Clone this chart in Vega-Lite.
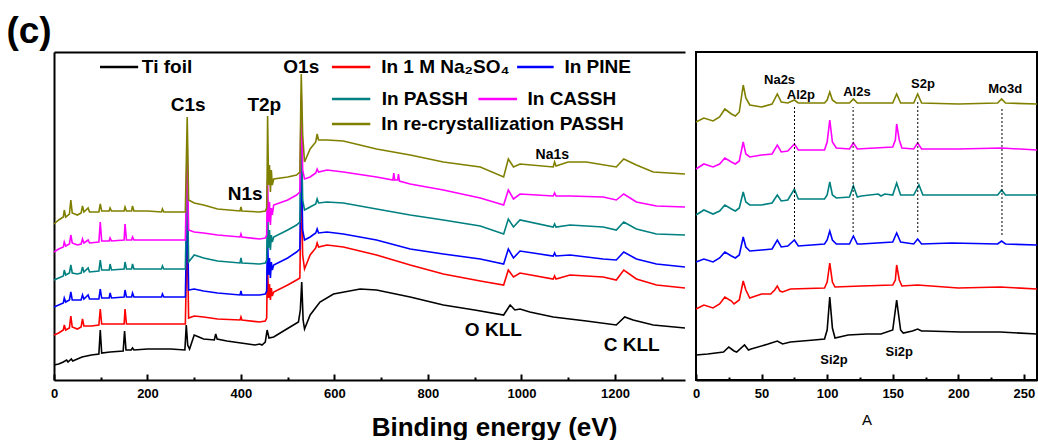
{
  "$schema": "https://vega.github.io/schema/vega-lite/v6.json",
  "padding": {"left": 6, "top": 13, "right": 0, "bottom": 0},
  "title": {"text": "(c)", "anchor": "start", "fontSize": 37, "fontWeight": "bold", "font": "Liberation Sans", "color": "black", "dx": -44, "offset": 0},
  "config": {
    "font": "Liberation Sans",
    "view": {"stroke": null},
    "axis": {"grid": false, "domainColor": "black", "tickColor": "black", "labelColor": "black", "titleColor": "black"}
  },
  "spacing": 2,
  "datasets": {
    "left": [
      {"s":"Ti foil","e":0,"v":15},{"s":"Ti foil","e":10,"v":16},{"s":"Ti foil","e":20,"v":18},{"s":"Ti foil","e":27,"v":20},{"s":"Ti foil","e":30,"v":18},{"s":"Ti foil","e":37,"v":21},{"s":"Ti foil","e":40,"v":19},{"s":"Ti foil","e":60,"v":23},{"s":"Ti foil","e":80,"v":25},{"s":"Ti foil","e":96,"v":26},{"s":"Ti foil","e":99,"v":50},{"s":"Ti foil","e":102,"v":27},{"s":"Ti foil","e":120,"v":28},{"s":"Ti foil","e":148,"v":29},{"s":"Ti foil","e":151,"v":49},{"s":"Ti foil","e":154,"v":30},{"s":"Ti foil","e":165,"v":30},{"s":"Ti foil","e":168,"v":32},{"s":"Ti foil","e":171,"v":30},{"s":"Ti foil","e":200,"v":31},{"s":"Ti foil","e":250,"v":31},{"s":"Ti foil","e":280,"v":30},{"s":"Ti foil","e":283,"v":55},{"s":"Ti foil","e":286,"v":35},{"s":"Ti foil","e":290,"v":31},{"s":"Ti foil","e":300,"v":45},{"s":"Ti foil","e":310,"v":43},{"s":"Ti foil","e":320,"v":41},{"s":"Ti foil","e":343,"v":40},{"s":"Ti foil","e":346,"v":46},{"s":"Ti foil","e":349,"v":41},{"s":"Ti foil","e":370,"v":39},{"s":"Ti foil","e":400,"v":37},{"s":"Ti foil","e":430,"v":35},{"s":"Ti foil","e":440,"v":36},{"s":"Ti foil","e":445,"v":35},{"s":"Ti foil","e":452,"v":38},{"s":"Ti foil","e":456,"v":50},{"s":"Ti foil","e":460,"v":42},{"s":"Ti foil","e":470,"v":43},{"s":"Ti foil","e":498,"v":51},{"s":"Ti foil","e":523,"v":58},{"s":"Ti foil","e":527,"v":70},{"s":"Ti foil","e":530,"v":98},{"s":"Ti foil","e":533,"v":60},{"s":"Ti foil","e":536,"v":51},{"s":"Ti foil","e":548,"v":65},{"s":"Ti foil","e":569,"v":78},{"s":"Ti foil","e":598,"v":86},{"s":"Ti foil","e":655,"v":91},{"s":"Ti foil","e":690,"v":90},{"s":"Ti foil","e":762,"v":83},{"s":"Ti foil","e":833,"v":75},{"s":"Ti foil","e":900,"v":70},{"s":"Ti foil","e":962,"v":65},{"s":"Ti foil","e":976,"v":75},{"s":"Ti foil","e":986,"v":70},{"s":"Ti foil","e":997,"v":71},{"s":"Ti foil","e":1018,"v":68},{"s":"Ti foil","e":1068,"v":63},{"s":"Ti foil","e":1139,"v":59},{"s":"Ti foil","e":1203,"v":55},{"s":"Ti foil","e":1221,"v":63},{"s":"Ti foil","e":1239,"v":60},{"s":"Ti foil","e":1282,"v":55},{"s":"Ti foil","e":1350,"v":52},

      {"s":"Na2SO4","e":0,"v":45},{"s":"Na2SO4","e":10,"v":47},{"s":"Na2SO4","e":20,"v":50},{"s":"Na2SO4","e":22,"v":55},{"s":"Na2SO4","e":25,"v":50},{"s":"Na2SO4","e":33,"v":52},{"s":"Na2SO4","e":36,"v":64},{"s":"Na2SO4","e":39,"v":53},{"s":"Na2SO4","e":50,"v":51},{"s":"Na2SO4","e":58,"v":53},{"s":"Na2SO4","e":61,"v":61},{"s":"Na2SO4","e":64,"v":54},{"s":"Na2SO4","e":80,"v":54},{"s":"Na2SO4","e":96,"v":55},{"s":"Na2SO4","e":99,"v":71},{"s":"Na2SO4","e":102,"v":56},{"s":"Na2SO4","e":125,"v":56},{"s":"Na2SO4","e":150,"v":56},{"s":"Na2SO4","e":152,"v":71},{"s":"Na2SO4","e":155,"v":56},{"s":"Na2SO4","e":200,"v":56},{"s":"Na2SO4","e":240,"v":56},{"s":"Na2SO4","e":270,"v":56},{"s":"Na2SO4","e":281,"v":56},{"s":"Na2SO4","e":285,"v":150},{"s":"Na2SO4","e":288,"v":62},{"s":"Na2SO4","e":300,"v":64},{"s":"Na2SO4","e":320,"v":63},{"s":"Na2SO4","e":350,"v":61},{"s":"Na2SO4","e":398,"v":60},{"s":"Na2SO4","e":400,"v":63},{"s":"Na2SO4","e":402,"v":60},{"s":"Na2SO4","e":440,"v":58},{"s":"Na2SO4","e":452,"v":59},{"s":"Na2SO4","e":455,"v":62},{"s":"Na2SO4","e":456,"v":98},{"s":"Na2SO4","e":457,"v":112},{"s":"Na2SO4","e":459,"v":82},{"s":"Na2SO4","e":461,"v":96},{"s":"Na2SO4","e":463,"v":80},{"s":"Na2SO4","e":465,"v":92},{"s":"Na2SO4","e":467,"v":84},{"s":"Na2SO4","e":470,"v":88},{"s":"Na2SO4","e":500,"v":95},{"s":"Na2SO4","e":519,"v":100},{"s":"Na2SO4","e":526,"v":102},{"s":"Na2SO4","e":529,"v":200},{"s":"Na2SO4","e":532,"v":125},{"s":"Na2SO4","e":536,"v":111},{"s":"Na2SO4","e":548,"v":125},{"s":"Na2SO4","e":560,"v":132},{"s":"Na2SO4","e":563,"v":137},{"s":"Na2SO4","e":566,"v":133},{"s":"Na2SO4","e":584,"v":135},{"s":"Na2SO4","e":619,"v":133},{"s":"Na2SO4","e":690,"v":125},{"s":"Na2SO4","e":762,"v":115},{"s":"Na2SO4","e":833,"v":106},{"s":"Na2SO4","e":912,"v":99},{"s":"Na2SO4","e":962,"v":95},{"s":"Na2SO4","e":972,"v":110},{"s":"Na2SO4","e":983,"v":103},{"s":"Na2SO4","e":997,"v":107},{"s":"Na2SO4","e":1068,"v":101},{"s":"Na2SO4","e":1071,"v":104},{"s":"Na2SO4","e":1074,"v":101},{"s":"Na2SO4","e":1104,"v":105},{"s":"Na2SO4","e":1175,"v":103},{"s":"Na2SO4","e":1203,"v":100},{"s":"Na2SO4","e":1219,"v":110},{"s":"Na2SO4","e":1246,"v":101},{"s":"Na2SO4","e":1289,"v":95},{"s":"Na2SO4","e":1350,"v":92},

      {"s":"PINE","e":0,"v":73},{"s":"PINE","e":10,"v":75},{"s":"PINE","e":20,"v":77},{"s":"PINE","e":22,"v":82},{"s":"PINE","e":25,"v":78},{"s":"PINE","e":33,"v":80},{"s":"PINE","e":36,"v":88},{"s":"PINE","e":39,"v":80},{"s":"PINE","e":50,"v":80},{"s":"PINE","e":58,"v":80},{"s":"PINE","e":61,"v":85},{"s":"PINE","e":64,"v":81},{"s":"PINE","e":73,"v":85},{"s":"PINE","e":76,"v":81},{"s":"PINE","e":96,"v":81},{"s":"PINE","e":99,"v":91},{"s":"PINE","e":102,"v":82},{"s":"PINE","e":118,"v":82},{"s":"PINE","e":120,"v":87},{"s":"PINE","e":123,"v":82},{"s":"PINE","e":150,"v":83},{"s":"PINE","e":152,"v":90},{"s":"PINE","e":155,"v":83},{"s":"PINE","e":166,"v":83},{"s":"PINE","e":168,"v":87},{"s":"PINE","e":171,"v":83},{"s":"PINE","e":200,"v":83},{"s":"PINE","e":230,"v":83},{"s":"PINE","e":232,"v":86},{"s":"PINE","e":235,"v":83},{"s":"PINE","e":270,"v":83},{"s":"PINE","e":281,"v":83},{"s":"PINE","e":285,"v":180},{"s":"PINE","e":288,"v":90},{"s":"PINE","e":300,"v":91},{"s":"PINE","e":320,"v":89},{"s":"PINE","e":350,"v":87},{"s":"PINE","e":398,"v":85},{"s":"PINE","e":400,"v":89},{"s":"PINE","e":402,"v":85},{"s":"PINE","e":440,"v":85},{"s":"PINE","e":452,"v":86},{"s":"PINE","e":455,"v":89},{"s":"PINE","e":456,"v":125},{"s":"PINE","e":457,"v":140},{"s":"PINE","e":459,"v":105},{"s":"PINE","e":461,"v":122},{"s":"PINE","e":463,"v":102},{"s":"PINE","e":465,"v":118},{"s":"PINE","e":467,"v":110},{"s":"PINE","e":470,"v":115},{"s":"PINE","e":500,"v":122},{"s":"PINE","e":519,"v":128},{"s":"PINE","e":526,"v":131},{"s":"PINE","e":529,"v":230},{"s":"PINE","e":532,"v":150},{"s":"PINE","e":536,"v":140},{"s":"PINE","e":548,"v":143},{"s":"PINE","e":560,"v":147},{"s":"PINE","e":563,"v":151},{"s":"PINE","e":566,"v":147},{"s":"PINE","e":584,"v":148},{"s":"PINE","e":619,"v":146},{"s":"PINE","e":690,"v":140},{"s":"PINE","e":762,"v":131},{"s":"PINE","e":833,"v":126},{"s":"PINE","e":912,"v":121},{"s":"PINE","e":962,"v":116},{"s":"PINE","e":972,"v":131},{"s":"PINE","e":983,"v":122},{"s":"PINE","e":997,"v":129},{"s":"PINE","e":1068,"v":124},{"s":"PINE","e":1071,"v":127},{"s":"PINE","e":1074,"v":124},{"s":"PINE","e":1104,"v":125},{"s":"PINE","e":1175,"v":121},{"s":"PINE","e":1203,"v":120},{"s":"PINE","e":1219,"v":128},{"s":"PINE","e":1246,"v":121},{"s":"PINE","e":1289,"v":116},{"s":"PINE","e":1350,"v":113},

      {"s":"PASSH","e":0,"v":100},{"s":"PASSH","e":10,"v":102},{"s":"PASSH","e":20,"v":104},{"s":"PASSH","e":22,"v":110},{"s":"PASSH","e":25,"v":105},{"s":"PASSH","e":33,"v":107},{"s":"PASSH","e":36,"v":115},{"s":"PASSH","e":39,"v":107},{"s":"PASSH","e":50,"v":106},{"s":"PASSH","e":58,"v":107},{"s":"PASSH","e":61,"v":113},{"s":"PASSH","e":64,"v":108},{"s":"PASSH","e":73,"v":112},{"s":"PASSH","e":76,"v":108},{"s":"PASSH","e":96,"v":109},{"s":"PASSH","e":99,"v":120},{"s":"PASSH","e":102,"v":110},{"s":"PASSH","e":118,"v":110},{"s":"PASSH","e":120,"v":116},{"s":"PASSH","e":123,"v":110},{"s":"PASSH","e":150,"v":111},{"s":"PASSH","e":152,"v":118},{"s":"PASSH","e":155,"v":111},{"s":"PASSH","e":166,"v":111},{"s":"PASSH","e":168,"v":116},{"s":"PASSH","e":171,"v":111},{"s":"PASSH","e":200,"v":111},{"s":"PASSH","e":230,"v":111},{"s":"PASSH","e":232,"v":114},{"s":"PASSH","e":235,"v":111},{"s":"PASSH","e":270,"v":111},{"s":"PASSH","e":281,"v":111},{"s":"PASSH","e":285,"v":210},{"s":"PASSH","e":288,"v":118},{"s":"PASSH","e":300,"v":125},{"s":"PASSH","e":320,"v":122},{"s":"PASSH","e":350,"v":119},{"s":"PASSH","e":398,"v":117},{"s":"PASSH","e":400,"v":122},{"s":"PASSH","e":402,"v":117},{"s":"PASSH","e":440,"v":116},{"s":"PASSH","e":452,"v":117},{"s":"PASSH","e":455,"v":120},{"s":"PASSH","e":456,"v":150},{"s":"PASSH","e":457,"v":175},{"s":"PASSH","e":459,"v":132},{"s":"PASSH","e":461,"v":150},{"s":"PASSH","e":463,"v":130},{"s":"PASSH","e":465,"v":145},{"s":"PASSH","e":467,"v":138},{"s":"PASSH","e":470,"v":143},{"s":"PASSH","e":500,"v":150},{"s":"PASSH","e":519,"v":155},{"s":"PASSH","e":526,"v":158},{"s":"PASSH","e":529,"v":260},{"s":"PASSH","e":532,"v":180},{"s":"PASSH","e":536,"v":170},{"s":"PASSH","e":548,"v":173},{"s":"PASSH","e":560,"v":176},{"s":"PASSH","e":563,"v":181},{"s":"PASSH","e":566,"v":177},{"s":"PASSH","e":584,"v":178},{"s":"PASSH","e":619,"v":177},{"s":"PASSH","e":690,"v":171},{"s":"PASSH","e":762,"v":165},{"s":"PASSH","e":833,"v":160},{"s":"PASSH","e":912,"v":154},{"s":"PASSH","e":962,"v":146},{"s":"PASSH","e":972,"v":161},{"s":"PASSH","e":983,"v":153},{"s":"PASSH","e":997,"v":160},{"s":"PASSH","e":1068,"v":153},{"s":"PASSH","e":1071,"v":156},{"s":"PASSH","e":1074,"v":153},{"s":"PASSH","e":1104,"v":155},{"s":"PASSH","e":1175,"v":153},{"s":"PASSH","e":1203,"v":150},{"s":"PASSH","e":1219,"v":158},{"s":"PASSH","e":1246,"v":151},{"s":"PASSH","e":1289,"v":146},{"s":"PASSH","e":1350,"v":145},

      {"s":"CASSH","e":0,"v":128},{"s":"CASSH","e":10,"v":131},{"s":"CASSH","e":20,"v":133},{"s":"CASSH","e":22,"v":138},{"s":"CASSH","e":25,"v":134},{"s":"CASSH","e":33,"v":136},{"s":"CASSH","e":36,"v":145},{"s":"CASSH","e":39,"v":137},{"s":"CASSH","e":50,"v":135},{"s":"CASSH","e":58,"v":136},{"s":"CASSH","e":61,"v":141},{"s":"CASSH","e":64,"v":137},{"s":"CASSH","e":73,"v":140},{"s":"CASSH","e":76,"v":137},{"s":"CASSH","e":96,"v":138},{"s":"CASSH","e":99,"v":158},{"s":"CASSH","e":102,"v":139},{"s":"CASSH","e":118,"v":139},{"s":"CASSH","e":120,"v":142},{"s":"CASSH","e":123,"v":139},{"s":"CASSH","e":150,"v":140},{"s":"CASSH","e":152,"v":156},{"s":"CASSH","e":155,"v":140},{"s":"CASSH","e":166,"v":140},{"s":"CASSH","e":168,"v":143},{"s":"CASSH","e":171,"v":140},{"s":"CASSH","e":200,"v":140},{"s":"CASSH","e":270,"v":140},{"s":"CASSH","e":281,"v":140},{"s":"CASSH","e":285,"v":235},{"s":"CASSH","e":288,"v":150},{"s":"CASSH","e":300,"v":148},{"s":"CASSH","e":320,"v":147},{"s":"CASSH","e":350,"v":145},{"s":"CASSH","e":398,"v":143},{"s":"CASSH","e":400,"v":146},{"s":"CASSH","e":402,"v":143},{"s":"CASSH","e":440,"v":141},{"s":"CASSH","e":452,"v":142},{"s":"CASSH","e":455,"v":145},{"s":"CASSH","e":456,"v":178},{"s":"CASSH","e":457,"v":200},{"s":"CASSH","e":459,"v":158},{"s":"CASSH","e":461,"v":178},{"s":"CASSH","e":463,"v":155},{"s":"CASSH","e":465,"v":172},{"s":"CASSH","e":467,"v":165},{"s":"CASSH","e":470,"v":175},{"s":"CASSH","e":500,"v":180},{"s":"CASSH","e":519,"v":185},{"s":"CASSH","e":526,"v":188},{"s":"CASSH","e":529,"v":285},{"s":"CASSH","e":532,"v":210},{"s":"CASSH","e":536,"v":201},{"s":"CASSH","e":548,"v":203},{"s":"CASSH","e":560,"v":207},{"s":"CASSH","e":563,"v":211},{"s":"CASSH","e":566,"v":208},{"s":"CASSH","e":584,"v":210},{"s":"CASSH","e":619,"v":208},{"s":"CASSH","e":690,"v":203},{"s":"CASSH","e":725,"v":200},{"s":"CASSH","e":727,"v":207},{"s":"CASSH","e":729,"v":200},{"s":"CASSH","e":735,"v":200},{"s":"CASSH","e":737,"v":206},{"s":"CASSH","e":739,"v":199},{"s":"CASSH","e":762,"v":196},{"s":"CASSH","e":833,"v":190},{"s":"CASSH","e":912,"v":182},{"s":"CASSH","e":962,"v":175},{"s":"CASSH","e":972,"v":190},{"s":"CASSH","e":983,"v":181},{"s":"CASSH","e":997,"v":186},{"s":"CASSH","e":1068,"v":184},{"s":"CASSH","e":1071,"v":187},{"s":"CASSH","e":1074,"v":184},{"s":"CASSH","e":1104,"v":184},{"s":"CASSH","e":1175,"v":183},{"s":"CASSH","e":1203,"v":180},{"s":"CASSH","e":1219,"v":186},{"s":"CASSH","e":1246,"v":178},{"s":"CASSH","e":1289,"v":174},{"s":"CASSH","e":1350,"v":173},

      {"s":"re-PASSH","e":0,"v":156},{"s":"re-PASSH","e":10,"v":160},{"s":"re-PASSH","e":20,"v":163},{"s":"re-PASSH","e":22,"v":170},{"s":"re-PASSH","e":25,"v":163},{"s":"re-PASSH","e":33,"v":166},{"s":"re-PASSH","e":36,"v":180},{"s":"re-PASSH","e":39,"v":167},{"s":"re-PASSH","e":50,"v":165},{"s":"re-PASSH","e":58,"v":167},{"s":"re-PASSH","e":61,"v":174},{"s":"re-PASSH","e":64,"v":168},{"s":"re-PASSH","e":73,"v":172},{"s":"re-PASSH","e":76,"v":168},{"s":"re-PASSH","e":96,"v":168},{"s":"re-PASSH","e":99,"v":176},{"s":"re-PASSH","e":102,"v":169},{"s":"re-PASSH","e":118,"v":169},{"s":"re-PASSH","e":120,"v":172},{"s":"re-PASSH","e":123,"v":169},{"s":"re-PASSH","e":150,"v":169},{"s":"re-PASSH","e":152,"v":173},{"s":"re-PASSH","e":155,"v":169},{"s":"re-PASSH","e":166,"v":169},{"s":"re-PASSH","e":168,"v":174},{"s":"re-PASSH","e":171,"v":169},{"s":"re-PASSH","e":200,"v":169},{"s":"re-PASSH","e":230,"v":168},{"s":"re-PASSH","e":232,"v":171},{"s":"re-PASSH","e":235,"v":168},{"s":"re-PASSH","e":270,"v":168},{"s":"re-PASSH","e":281,"v":168},{"s":"re-PASSH","e":285,"v":263},{"s":"re-PASSH","e":288,"v":180},{"s":"re-PASSH","e":300,"v":177},{"s":"re-PASSH","e":320,"v":175},{"s":"re-PASSH","e":350,"v":171},{"s":"re-PASSH","e":398,"v":169},{"s":"re-PASSH","e":400,"v":173},{"s":"re-PASSH","e":402,"v":169},{"s":"re-PASSH","e":440,"v":168},{"s":"re-PASSH","e":452,"v":169},{"s":"re-PASSH","e":455,"v":172},{"s":"re-PASSH","e":456,"v":205},{"s":"re-PASSH","e":457,"v":264},{"s":"re-PASSH","e":459,"v":195},{"s":"re-PASSH","e":461,"v":215},{"s":"re-PASSH","e":463,"v":188},{"s":"re-PASSH","e":465,"v":210},{"s":"re-PASSH","e":467,"v":195},{"s":"re-PASSH","e":470,"v":201},{"s":"re-PASSH","e":500,"v":203},{"s":"re-PASSH","e":519,"v":205},{"s":"re-PASSH","e":526,"v":208},{"s":"re-PASSH","e":529,"v":306},{"s":"re-PASSH","e":532,"v":245},{"s":"re-PASSH","e":536,"v":218},{"s":"re-PASSH","e":548,"v":231},{"s":"re-PASSH","e":560,"v":238},{"s":"re-PASSH","e":563,"v":246},{"s":"re-PASSH","e":566,"v":240},{"s":"re-PASSH","e":584,"v":240},{"s":"re-PASSH","e":619,"v":239},{"s":"re-PASSH","e":690,"v":231},{"s":"re-PASSH","e":762,"v":225},{"s":"re-PASSH","e":833,"v":218},{"s":"re-PASSH","e":912,"v":213},{"s":"re-PASSH","e":962,"v":203},{"s":"re-PASSH","e":972,"v":221},{"s":"re-PASSH","e":983,"v":213},{"s":"re-PASSH","e":997,"v":216},{"s":"re-PASSH","e":1068,"v":213},{"s":"re-PASSH","e":1071,"v":218},{"s":"re-PASSH","e":1074,"v":214},{"s":"re-PASSH","e":1100,"v":218},{"s":"re-PASSH","e":1139,"v":218},{"s":"re-PASSH","e":1203,"v":213},{"s":"re-PASSH","e":1219,"v":221},{"s":"re-PASSH","e":1246,"v":215},{"s":"re-PASSH","e":1282,"v":208},{"s":"re-PASSH","e":1350,"v":206}
    ],
    "right": [
      {"s":"Ti foil","a":0,"v":25},{"s":"Ti foil","a":9,"v":26},{"s":"Ti foil","a":21,"v":28},{"s":"Ti foil","a":25,"v":33},{"s":"Ti foil","a":29,"v":29},{"s":"Ti foil","a":31,"v":28},{"s":"Ti foil","a":37,"v":35},{"s":"Ti foil","a":40,"v":30},{"s":"Ti foil","a":42,"v":31},{"s":"Ti foil","a":55,"v":36},{"s":"Ti foil","a":62,"v":39},{"s":"Ti foil","a":66,"v":36},{"s":"Ti foil","a":72,"v":38},{"s":"Ti foil","a":90,"v":40},{"s":"Ti foil","a":98,"v":41},{"s":"Ti foil","a":100,"v":50},{"s":"Ti foil","a":102,"v":83},{"s":"Ti foil","a":104,"v":52},{"s":"Ti foil","a":106,"v":42},{"s":"Ti foil","a":116,"v":45},{"s":"Ti foil","a":130,"v":46},{"s":"Ti foil","a":141,"v":46},{"s":"Ti foil","a":150,"v":50},{"s":"Ti foil","a":153,"v":80},{"s":"Ti foil","a":156,"v":50},{"s":"Ti foil","a":158,"v":47},{"s":"Ti foil","a":165,"v":49},{"s":"Ti foil","a":169,"v":51},{"s":"Ti foil","a":172,"v":49},{"s":"Ti foil","a":176,"v":49},{"s":"Ti foil","a":202,"v":48},{"s":"Ti foil","a":232,"v":48},{"s":"Ti foil","a":260,"v":46},

      {"s":"Na2SO4","a":0,"v":71},{"s":"Na2SO4","a":6,"v":75},{"s":"Na2SO4","a":13,"v":72},{"s":"Na2SO4","a":18,"v":76},{"s":"Na2SO4","a":22,"v":83},{"s":"Na2SO4","a":27,"v":79},{"s":"Na2SO4","a":29,"v":76},{"s":"Na2SO4","a":33,"v":80},{"s":"Na2SO4","a":36,"v":99},{"s":"Na2SO4","a":38,"v":90},{"s":"Na2SO4","a":41,"v":82},{"s":"Na2SO4","a":50,"v":86},{"s":"Na2SO4","a":57,"v":86},{"s":"Na2SO4","a":60,"v":90},{"s":"Na2SO4","a":62,"v":94},{"s":"Na2SO4","a":64,"v":89},{"s":"Na2SO4","a":66,"v":88},{"s":"Na2SO4","a":72,"v":91},{"s":"Na2SO4","a":98,"v":92},{"s":"Na2SO4","a":100,"v":98},{"s":"Na2SO4","a":102,"v":117},{"s":"Na2SO4","a":104,"v":98},{"s":"Na2SO4","a":106,"v":93},{"s":"Na2SO4","a":126,"v":94},{"s":"Na2SO4","a":150,"v":95},{"s":"Na2SO4","a":152,"v":100},{"s":"Na2SO4","a":153,"v":115},{"s":"Na2SO4","a":155,"v":100},{"s":"Na2SO4","a":157,"v":94},{"s":"Na2SO4","a":169,"v":95},{"s":"Na2SO4","a":200,"v":92},{"s":"Na2SO4","a":232,"v":93},{"s":"Na2SO4","a":260,"v":91},

      {"s":"PINE","a":0,"v":118},{"s":"PINE","a":6,"v":121},{"s":"PINE","a":13,"v":118},{"s":"PINE","a":18,"v":122},{"s":"PINE","a":22,"v":128},{"s":"PINE","a":27,"v":124},{"s":"PINE","a":30,"v":122},{"s":"PINE","a":33,"v":125},{"s":"PINE","a":36,"v":143},{"s":"PINE","a":38,"v":133},{"s":"PINE","a":41,"v":129},{"s":"PINE","a":50,"v":130},{"s":"PINE","a":58,"v":131},{"s":"PINE","a":62,"v":140},{"s":"PINE","a":65,"v":133},{"s":"PINE","a":70,"v":134},{"s":"PINE","a":75,"v":140},{"s":"PINE","a":78,"v":134},{"s":"PINE","a":98,"v":136},{"s":"PINE","a":100,"v":140},{"s":"PINE","a":102,"v":149},{"s":"PINE","a":104,"v":140},{"s":"PINE","a":107,"v":136},{"s":"PINE","a":117,"v":136},{"s":"PINE","a":120,"v":144},{"s":"PINE","a":123,"v":136},{"s":"PINE","a":126,"v":136},{"s":"PINE","a":150,"v":138},{"s":"PINE","a":153,"v":147},{"s":"PINE","a":156,"v":138},{"s":"PINE","a":166,"v":136},{"s":"PINE","a":169,"v":141},{"s":"PINE","a":172,"v":136},{"s":"PINE","a":195,"v":137},{"s":"PINE","a":230,"v":136},{"s":"PINE","a":233,"v":139},{"s":"PINE","a":236,"v":136},{"s":"PINE","a":260,"v":135},

      {"s":"PASSH","a":0,"v":165},{"s":"PASSH","a":6,"v":170},{"s":"PASSH","a":13,"v":166},{"s":"PASSH","a":18,"v":169},{"s":"PASSH","a":22,"v":175},{"s":"PASSH","a":27,"v":171},{"s":"PASSH","a":30,"v":169},{"s":"PASSH","a":33,"v":172},{"s":"PASSH","a":36,"v":188},{"s":"PASSH","a":38,"v":178},{"s":"PASSH","a":41,"v":175},{"s":"PASSH","a":50,"v":175},{"s":"PASSH","a":58,"v":177},{"s":"PASSH","a":62,"v":185},{"s":"PASSH","a":65,"v":179},{"s":"PASSH","a":70,"v":180},{"s":"PASSH","a":75,"v":191},{"s":"PASSH","a":78,"v":181},{"s":"PASSH","a":98,"v":181},{"s":"PASSH","a":100,"v":185},{"s":"PASSH","a":102,"v":198},{"s":"PASSH","a":104,"v":185},{"s":"PASSH","a":107,"v":182},{"s":"PASSH","a":117,"v":183},{"s":"PASSH","a":120,"v":194},{"s":"PASSH","a":123,"v":183},{"s":"PASSH","a":126,"v":184},{"s":"PASSH","a":139,"v":186},{"s":"PASSH","a":141,"v":184},{"s":"PASSH","a":144,"v":186},{"s":"PASSH","a":150,"v":185},{"s":"PASSH","a":153,"v":197},{"s":"PASSH","a":156,"v":185},{"s":"PASSH","a":166,"v":185},{"s":"PASSH","a":170,"v":195},{"s":"PASSH","a":173,"v":185},{"s":"PASSH","a":200,"v":185},{"s":"PASSH","a":230,"v":185},{"s":"PASSH","a":233,"v":190},{"s":"PASSH","a":236,"v":185},{"s":"PASSH","a":260,"v":185},

      {"s":"CASSH","a":0,"v":211},{"s":"CASSH","a":6,"v":216},{"s":"CASSH","a":13,"v":213},{"s":"CASSH","a":18,"v":216},{"s":"CASSH","a":22,"v":222},{"s":"CASSH","a":27,"v":218},{"s":"CASSH","a":30,"v":216},{"s":"CASSH","a":33,"v":219},{"s":"CASSH","a":36,"v":238},{"s":"CASSH","a":38,"v":226},{"s":"CASSH","a":41,"v":223},{"s":"CASSH","a":50,"v":225},{"s":"CASSH","a":58,"v":226},{"s":"CASSH","a":62,"v":235},{"s":"CASSH","a":65,"v":228},{"s":"CASSH","a":70,"v":229},{"s":"CASSH","a":75,"v":236},{"s":"CASSH","a":78,"v":230},{"s":"CASSH","a":98,"v":230},{"s":"CASSH","a":100,"v":238},{"s":"CASSH","a":102,"v":260},{"s":"CASSH","a":104,"v":238},{"s":"CASSH","a":107,"v":232},{"s":"CASSH","a":117,"v":231},{"s":"CASSH","a":120,"v":237},{"s":"CASSH","a":123,"v":231},{"s":"CASSH","a":150,"v":233},{"s":"CASSH","a":152,"v":240},{"s":"CASSH","a":153,"v":256},{"s":"CASSH","a":155,"v":240},{"s":"CASSH","a":157,"v":232},{"s":"CASSH","a":166,"v":231},{"s":"CASSH","a":169,"v":237},{"s":"CASSH","a":172,"v":231},{"s":"CASSH","a":200,"v":231},{"s":"CASSH","a":233,"v":232},{"s":"CASSH","a":260,"v":230},

      {"s":"re-PASSH","a":0,"v":258},{"s":"re-PASSH","a":6,"v":262},{"s":"re-PASSH","a":13,"v":259},{"s":"re-PASSH","a":18,"v":263},{"s":"re-PASSH","a":22,"v":271},{"s":"re-PASSH","a":27,"v":266},{"s":"re-PASSH","a":30,"v":264},{"s":"re-PASSH","a":33,"v":268},{"s":"re-PASSH","a":36,"v":295},{"s":"re-PASSH","a":38,"v":282},{"s":"re-PASSH","a":41,"v":275},{"s":"re-PASSH","a":50,"v":273},{"s":"re-PASSH","a":58,"v":276},{"s":"re-PASSH","a":62,"v":286},{"s":"re-PASSH","a":65,"v":278},{"s":"re-PASSH","a":70,"v":277},{"s":"re-PASSH","a":75,"v":280},{"s":"re-PASSH","a":78,"v":277},{"s":"re-PASSH","a":98,"v":277},{"s":"re-PASSH","a":100,"v":280},{"s":"re-PASSH","a":102,"v":288},{"s":"re-PASSH","a":104,"v":280},{"s":"re-PASSH","a":107,"v":277},{"s":"re-PASSH","a":117,"v":277},{"s":"re-PASSH","a":120,"v":281},{"s":"re-PASSH","a":123,"v":277},{"s":"re-PASSH","a":150,"v":277},{"s":"re-PASSH","a":153,"v":286},{"s":"re-PASSH","a":156,"v":277},{"s":"re-PASSH","a":166,"v":277},{"s":"re-PASSH","a":169,"v":286},{"s":"re-PASSH","a":172,"v":277},{"s":"re-PASSH","a":200,"v":276},{"s":"re-PASSH","a":230,"v":277},{"s":"re-PASSH","a":233,"v":281},{"s":"re-PASSH","a":236,"v":277},{"s":"re-PASSH","a":260,"v":276}
    ],
    "legend": [
      {"s":"Ti foil","x1":98.5,"x2":180,"xt":188,"y":313,"label":"Ti foil"},
      {"s":"Na2SO4","x1":594.6,"x2":676.7,"xt":700,"y":313,"label":"In 1 M Na₂SO₄"},
      {"s":"PINE","x1":990.8,"x2":1069,"xt":1092,"y":313,"label":"In  PINE"},
      {"s":"PASSH","x1":594.6,"x2":676.7,"xt":701,"y":281,"label":"In PASSH"},
      {"s":"CASSH","x1":908,"x2":990.8,"xt":1013,"y":281,"label":"In CASSH"},
      {"s":"re-PASSH","x1":594.6,"x2":676.7,"xt":700,"y":256,"label":"In re-crystallization PASSH"}
    ],
    "peaks": [
      {"e":287,"v":275,"t":"C1s"},{"e":450,"v":275,"t":"T2p"},{"e":409,"v":186,"t":"N1s"},{"e":529,"v":313,"t":"O1s"},{"e":940,"v":50,"t":"O KLL"},{"e":1236,"v":35,"t":"C KLL"}
    ],
    "small": [{"e":1066,"v":225,"t":"Na1s"}],
    "guides": [
      {"a":75.1,"v1":143,"v2":273},{"a":119.8,"v1":148,"v2":273},{"a":169.1,"v1":148,"v2":278},{"a":233.3,"v1":145,"v2":271}
    ],
    "rlabels": [
      {"a":63.7,"v":300,"t":"Na2s"},{"a":80,"v":285,"t":"Al2p"},{"a":122.7,"v":288,"t":"Al2s"},{"a":173,"v":296,"t":"S2p"},{"a":235.7,"v":291,"t":"Mo3d"},{"a":105.2,"v":20,"t":"Si2p"},{"a":155,"v":28,"t":"Si2p"}
    ]
  },
  "hconcat": [
    {
      "width": 631,
      "height": 328,
      "layer": [
        {
          "data": {"name": "left"},
          "mark": {"type": "line", "strokeWidth": 1.6},
          "encoding": {
            "x": {"field": "e", "type": "quantitative", "scale": {"domain": [0, 1350], "nice": false, "zero": false},
              "axis": {"orient": "bottom", "values": [0, 200, 400, 600, 800, 1000, 1200], "format": "d", "tickSize": -6, "tickWidth": 2, "domainWidth": 2, "labelPadding": 13, "labelFlush": false, "labelFontSize": 13, "labelFontWeight": "bold", "labelFont": "Liberation Sans",
                "title": "Binding energy (eV)", "titleFontSize": 26, "titleFontWeight": "bold", "titleFont": "Liberation Sans", "titleX": 440, "titleY": 47, "titleAnchor": "middle", "titleAlign": "center", "titleBaseline": "middle"}},
            "y": {"field": "v", "type": "quantitative", "scale": {"domain": [0, 328], "nice": false, "zero": false},
              "axis": {"orient": "left", "domain": true, "domainWidth": 2, "ticks": false, "labels": false, "title": null}},
            "color": {"field": "s", "type": "nominal", "legend": null,
              "scale": {"domain": ["Ti foil", "Na2SO4", "PINE", "PASSH", "CASSH", "re-PASSH"], "range": ["#000000", "#ff0000", "#0000ff", "#008080", "#ff00ff", "#808000"]}}
          }
        },
        {
          "data": {"name": "legend"},
          "mark": {"type": "rule", "strokeWidth": 2.5},
          "encoding": {
            "x": {"field": "x1", "type": "quantitative", "scale": {"domain": [0, 1350], "nice": false, "zero": false},
              "axis": {"orient": "bottom", "values": [100, 300, 500, 700, 900, 1100, 1300], "tickSize": -3, "tickWidth": 2, "domain": false, "labels": false, "title": null}},
            "x2": {"field": "x2"},
            "y": {"field": "y", "type": "quantitative", "scale": {"domain": [0, 328], "nice": false, "zero": false}, "axis": null},
            "color": {"field": "s", "type": "nominal", "legend": null,
              "scale": {"domain": ["Ti foil", "Na2SO4", "PINE", "PASSH", "CASSH", "re-PASSH"], "range": ["#000000", "#ff0000", "#0000ff", "#008080", "#ff00ff", "#808000"]}}
          }
        },
        {
          "data": {"name": "legend"},
          "mark": {"type": "text", "align": "left", "baseline": "middle", "fontSize": 19, "fontWeight": "bold", "font": "Liberation Sans", "color": "black"},
          "encoding": {
            "x": {"field": "xt", "type": "quantitative", "scale": {"domain": [0, 1350], "nice": false, "zero": false}, "axis": null},
            "y": {"field": "y", "type": "quantitative", "scale": {"domain": [0, 328], "nice": false, "zero": false}, "axis": null},
            "text": {"field": "label"}
          }
        },
        {
          "data": {"name": "peaks"},
          "mark": {"type": "text", "align": "center", "baseline": "middle", "fontSize": 19, "fontWeight": "bold", "font": "Liberation Sans", "color": "black"},
          "encoding": {
            "x": {"field": "e", "type": "quantitative", "scale": {"domain": [0, 1350], "nice": false, "zero": false},
              "axis": {"orient": "top", "domain": true, "domainWidth": 2, "ticks": false, "labels": false, "title": null}},
            "y": {"field": "v", "type": "quantitative", "scale": {"domain": [0, 328], "nice": false, "zero": false}, "axis": null},
            "text": {"field": "t"}
          }
        },
        {
          "data": {"name": "small"},
          "mark": {"type": "text", "align": "center", "baseline": "middle", "fontSize": 14, "fontWeight": "bold", "font": "Liberation Sans", "color": "black"},
          "encoding": {
            "x": {"field": "e", "type": "quantitative", "scale": {"domain": [0, 1350], "nice": false, "zero": false}, "axis": null},
            "y": {"field": "v", "type": "quantitative", "scale": {"domain": [0, 328], "nice": false, "zero": false}, "axis": null},
            "text": {"field": "t"}
          }
        }
      ],
      "resolve": {"axis": {"x": "independent", "y": "independent"}}
    },
    {
      "width": 341,
      "height": 328,
      "view": {"stroke": "black", "strokeWidth": 2},
      "layer": [
        {
          "data": {"name": "right"},
          "mark": {"type": "line", "strokeWidth": 1.6},
          "encoding": {
            "x": {"field": "a", "type": "quantitative", "scale": {"domain": [0, 260], "nice": false, "zero": false},
              "axis": {"orient": "bottom", "values": [0, 50, 100, 150, 200, 250], "format": "d", "tickSize": -6, "tickWidth": 2, "domainWidth": 2, "labelPadding": 13, "labelFlush": false, "labelFontSize": 13, "labelFontWeight": "bold", "labelFont": "Liberation Sans",
                "title": "A", "titleFontSize": 15, "titleFontWeight": "normal", "titleFont": "Liberation Sans", "titleY": 39, "titleBaseline": "middle"}},
            "y": {"field": "v", "type": "quantitative", "scale": {"domain": [0, 328], "nice": false, "zero": false}, "axis": null},
            "color": {"field": "s", "type": "nominal", "legend": null,
              "scale": {"domain": ["Ti foil", "Na2SO4", "PINE", "PASSH", "CASSH", "re-PASSH"], "range": ["#000000", "#ff0000", "#0000ff", "#008080", "#ff00ff", "#808000"]}}
          }
        },
        {
          "data": {"name": "guides"},
          "mark": {"type": "rule", "strokeDash": [2, 2], "strokeWidth": 1, "color": "black"},
          "encoding": {
            "x": {"field": "a", "type": "quantitative", "scale": {"domain": [0, 260], "nice": false, "zero": false},
              "axis": {"orient": "bottom", "values": [25, 75, 125, 175, 225], "tickSize": -3, "tickWidth": 2, "domain": false, "labels": false, "title": null}},
            "y": {"field": "v1", "type": "quantitative", "scale": {"domain": [0, 328], "nice": false, "zero": false}, "axis": null},
            "y2": {"field": "v2"}
          }
        },
        {
          "data": {"name": "rlabels"},
          "mark": {"type": "text", "align": "center", "baseline": "middle", "fontSize": 13, "fontWeight": "bold", "font": "Liberation Sans", "color": "black"},
          "encoding": {
            "x": {"field": "a", "type": "quantitative", "scale": {"domain": [0, 260], "nice": false, "zero": false}, "axis": null},
            "y": {"field": "v", "type": "quantitative", "scale": {"domain": [0, 328], "nice": false, "zero": false}, "axis": null},
            "text": {"field": "t"}
          }
        }
      ],
      "resolve": {"axis": {"x": "independent", "y": "independent"}}
    }
  ]
}
